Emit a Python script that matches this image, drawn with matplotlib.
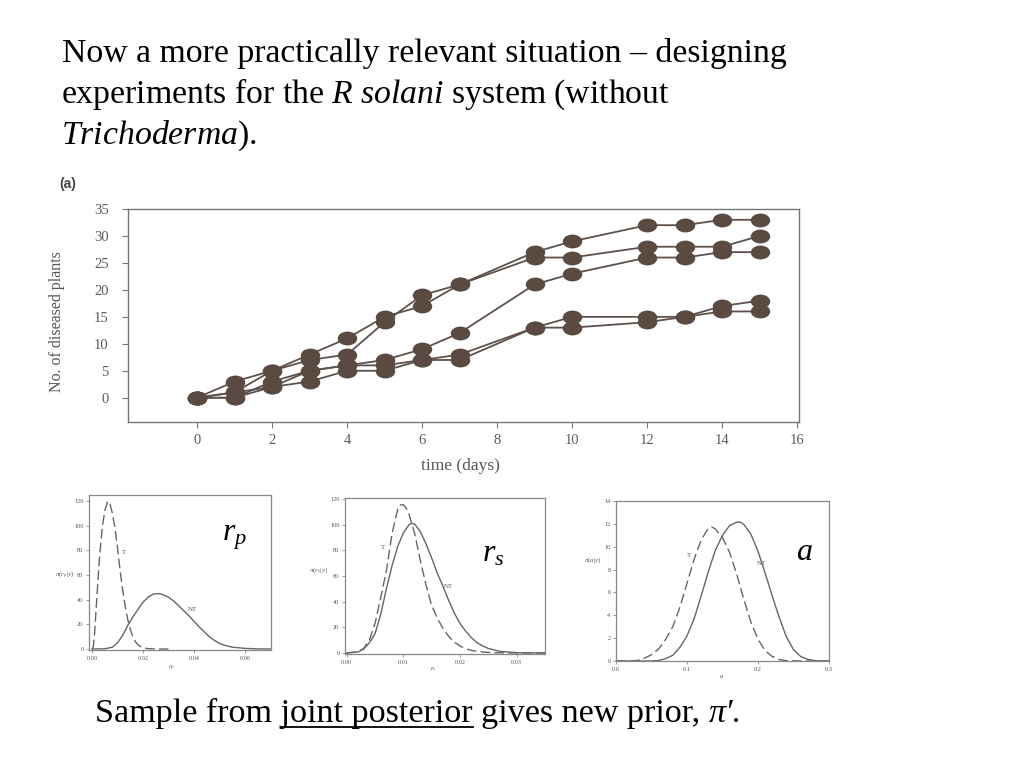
import matplotlib
matplotlib.use("Agg")
import matplotlib.pyplot as plt
from matplotlib.path import Path
from matplotlib.transforms import Affine2D
from matplotlib.lines import Line2D

plt.rcParams['font.family'] = ['Liberation Serif', 'DejaVu Serif']
plt.rcParams['mathtext.fontset'] = 'custom'
plt.rcParams['mathtext.rm'] = 'Liberation Serif'
plt.rcParams['mathtext.it'] = 'Liberation Serif:italic'
plt.rcParams['mathtext.bf'] = 'Liberation Serif:bold'

# disease progress curves (days)
days = [0, 1, 2, 3, 4, 5, 6, 7, 9, 10, 12, 13, 14, 15]
plot1 = [0, 3, 5, 8, 11, 15, 17, 21, 27, 29, 32, 32, 33, 33]
plot2 = [0, 1, 5, 7, 8, 14, 19, 21, 26, 26, 28, 28, 28, 30]
plot3 = [0, 0, 3, 5, 6, 7, 9, 12, 21, 23, 26, 26, 27, 27]
plot4 = [0, 1, 2, 5, 6, 6, 7, 8, 13, 15, 15, 15, 17, 18]
plot5 = [0, 0, 2, 3, 5, 5, 7, 7, 13, 13, 14, 15, 16, 16]
main_xticks = [0, 2, 4, 6, 8, 10, 12, 14, 16]
main_yticks = [0, 5, 10, 15, 20, 25, 30, 35]

# posterior densities
rp_T_x = [0.000, 0.0005, 0.001, 0.002, 0.003, 0.004, 0.005, 0.006, 0.0065, 0.007, 0.008, 0.009,
          0.010, 0.011, 0.012, 0.013, 0.014, 0.015, 0.016, 0.017, 0.018, 0.019, 0.020, 0.022,
          0.025, 0.030]
rp_T_y = [0, 2, 12, 45, 76, 98, 112, 119, 120, 118, 110, 98, 82, 64, 48, 35, 24, 16, 10, 6,
          3.5, 2, 1, 0.3, 0, 0]
rp_NT_x = [0.000, 0.005, 0.008, 0.010, 0.012, 0.014, 0.016, 0.018, 0.020, 0.022, 0.024, 0.026,
           0.028, 0.030, 0.032, 0.034, 0.036, 0.038, 0.040, 0.042, 0.044, 0.046, 0.048, 0.050,
           0.052, 0.055, 0.060, 0.065, 0.070]
rp_NT_y = [0, 0.2, 1.5, 5, 11, 19, 26, 32, 38, 42, 44.5, 45, 44, 42, 39, 35, 31, 27, 22.5, 18,
           14, 10, 7, 4.5, 3, 1.5, 0.5, 0.1, 0]

rs_T_x = [0.000, 0.002, 0.003, 0.004, 0.005, 0.006, 0.007, 0.008, 0.009, 0.0095, 0.010, 0.0105,
          0.011, 0.012, 0.013, 0.014, 0.015, 0.016, 0.017, 0.018, 0.019, 0.020, 0.021, 0.022,
          0.024, 0.026, 0.030, 0.035]
rs_T_y = [0, 1, 3.5, 10, 23, 43, 64, 93, 112, 115.5, 115.5, 113, 108, 93, 72, 53, 37, 27, 19,
          13, 8.5, 5.5, 3.3, 2, 0.7, 0.2, 0, 0]
rs_NT_x = [0.000, 0.002, 0.003, 0.004, 0.005, 0.006, 0.007, 0.008, 0.009, 0.010, 0.011, 0.0115,
           0.012, 0.013, 0.014, 0.015, 0.016, 0.017, 0.018, 0.019, 0.020, 0.021, 0.022, 0.023,
           0.024, 0.025, 0.027, 0.030, 0.035]
rs_NT_y = [0, 0.8, 3, 8, 15, 30, 50, 68, 83, 93.5, 100, 101, 100.5, 94.5, 85, 74, 62, 52, 41,
           31, 23, 17, 12, 8, 5.5, 3.5, 1.3, 0.2, 0]

a_T_x = [0.0, 0.02, 0.03, 0.04, 0.05, 0.06, 0.07, 0.08, 0.09, 0.10, 0.11, 0.12, 0.13, 0.135,
         0.14, 0.15, 0.16, 0.17, 0.18, 0.19, 0.20, 0.21, 0.22, 0.23, 0.24, 0.26, 0.30]
a_T_y = [0, 0, 0.05, 0.25, 0.55, 1.05, 1.9, 3.0, 4.7, 6.8, 8.9, 10.6, 11.6, 11.72, 11.55, 10.8,
         9.5, 7.6, 5.4, 3.4, 1.9, 0.9, 0.4, 0.12, 0.03, 0, 0]
a_NT_x = [0.0, 0.05, 0.06, 0.07, 0.08, 0.09, 0.10, 0.11, 0.12, 0.13, 0.14, 0.15, 0.16, 0.17,
          0.175, 0.18, 0.19, 0.20, 0.21, 0.22, 0.23, 0.24, 0.25, 0.26, 0.27, 0.28, 0.29, 0.30]
a_NT_y = [0, 0, 0.05, 0.2, 0.5, 1.2, 2.2, 3.7, 5.7, 7.8, 9.7, 11.0, 11.85, 12.15, 12.15, 11.95,
          11.1, 9.6, 7.7, 5.7, 3.8, 2.1, 1.0, 0.4, 0.15, 0.03, 0, 0]

W, H = 1024, 768
fig = plt.figure(figsize=(W / 100, H / 100), dpi=100)


def px(x, y):
    return x / W, 1 - y / H


def box(l, t, r, b):
    return [l / W, 1 - b / H, (r - l) / W, (b - t) / H]


# slide title
tsize = 24.3
fig.text(*px(62, 62), "Now a more practically relevant situation \u2013 designing",
         fontsize=tsize, va='baseline')
fig.text(*px(61, 103), r"experiments for the $\mathit{R\ solani}$ system (without",
         fontsize=tsize, va='baseline')
fig.text(*px(61, 144), r"$\mathit{Trichoderma}$).", fontsize=tsize, va='baseline')

# main chart
ink = '#5a4a42'
gray = '#666666'
ellipse = Path.unit_circle().transformed(Affine2D().scale(1.45, 1.0))
ax = fig.add_axes(box(128, 209, 799, 422))
for s in [plot1, plot2, plot3, plot4, plot5]:
    ax.plot(days, s, color='#5e514b', lw=1.3, marker=ellipse, markersize=13,
            markerfacecolor=ink, markeredgecolor=ink)
ax.set_xlim(-1.84, 16.05)
ax.set_ylim(-4.5, 35)
ax.set_xticks(main_xticks)
ax.set_yticks(main_yticks)
ax.tick_params(colors='#777777', labelcolor='#5a5a5a', labelsize=10.5, length=4, width=0.8)
ax.tick_params(axis='x', pad=5)
ax.tick_params(axis='y', pad=10)
for sp in ax.spines.values():
    sp.set_color('#777777')
    sp.set_linewidth(1.0)
fig.text(*px(68, 184), "(a)", fontsize=10, fontweight='bold', family='Liberation Sans',
         color='#444444', va='center', ha='center')
fig.text(*px(57, 322), "No. of diseased plants", fontsize=11.5, color='#555555',
         rotation=90, va='center', ha='center')
fig.text(*px(460, 466), "time (days)", fontsize=12.5, color='#555555',
         va='center', ha='center')


def small_panel(rect, xs_T, ys_T, xs_NT, ys_NT, xlim, ylim, xticks, xlabels, yticks):
    a = fig.add_axes(rect)
    a.plot(xs_NT, ys_NT, color=gray, lw=1.0)
    a.plot(xs_T, ys_T, color=gray, lw=1.0, dashes=(7, 3))
    a.set_xlim(*xlim)
    a.set_ylim(*ylim)
    a.set_xticks(xticks)
    a.set_xticklabels(xlabels)
    a.set_yticks(yticks)
    a.tick_params(colors='#888888', labelcolor='#555555', labelsize=4.5, length=2,
                  width=0.6, pad=2)
    for sp in a.spines.values():
        sp.set_color('#888888')
        sp.set_linewidth(0.9)
    return a


p1 = small_panel(box(89, 495, 271, 650), rp_T_x, rp_T_y, rp_NT_x, rp_NT_y,
                 (-0.00118, 0.0702), (-0.8, 124.9), [0, 0.02, 0.04, 0.06],
                 ['0.00', '0.02', '0.04', '0.06'], [0, 20, 40, 60, 80, 100, 120])
p1.text(0.0124, 78, "T", fontsize=5, color='#555555', ha='center', va='center')
p1.text(0.0395, 32, "NT", fontsize=5, color='#555555', ha='center', va='center')

p2 = small_panel(box(345, 498, 545, 654), rs_T_x, rs_T_y, rs_NT_x, rs_NT_y,
                 (-0.0003, 0.035), (-0.8, 120.8), [0, 0.01, 0.02, 0.03],
                 ['0.00', '0.01', '0.02', '0.03'], [0, 20, 40, 60, 80, 100, 120])
p2.text(0.0064, 82.6, "T", fontsize=5, color='#555555', ha='center', va='center')
p2.text(0.0179, 52, "NT", fontsize=5, color='#555555', ha='center', va='center')

p3 = small_panel(box(616, 501, 829, 661), a_T_x, a_T_y, a_NT_x, a_NT_y,
                 (0, 0.3), (0, 14), [0, 0.1, 0.2, 0.3],
                 ['0.0', '0.1', '0.2', '0.3'], [0, 2, 4, 6, 8, 10, 12, 14])
p3.text(0.103, 9.2, "T", fontsize=5, color='#555555', ha='center', va='center')
p3.text(0.205, 8.5, "NT", fontsize=5, color='#555555', ha='center', va='center')

# axis labels of the small panels
fig.text(*px(65, 575), r"$\pi(r_p|y)$", fontsize=5, color='#555555', ha='center', va='center')
fig.text(*px(172, 668), r"$r_p$", fontsize=5, color='#555555', ha='center', va='center')
fig.text(*px(319, 570), r"$\pi(r_s|y)$", fontsize=5, color='#555555', ha='center', va='center')
fig.text(*px(433, 669), r"$r_s$", fontsize=5, color='#555555', ha='center', va='center')
fig.text(*px(593, 560), r"$\pi(a|y)$", fontsize=5, color='#555555', ha='center', va='center')
fig.text(*px(722, 676), r"$a$", fontsize=5, color='#555555', ha='center', va='center')

# big parameter names
fig.text(*px(222, 540), r"$r_p$", fontsize=23, va='baseline')
fig.text(*px(482, 562), r"$r_s$", fontsize=23, va='baseline')
fig.text(*px(796, 560), r"$a$", fontsize=23, va='baseline')

# bottom sentence with underline
bsize = 24.6
renderer = fig.canvas.get_renderer()


def width(s, **kw):
    t = fig.text(0, 0, s, fontsize=bsize, **kw)
    w = t.get_window_extent(renderer).width
    t.remove()
    return w


x0, yb = 95, 722
main = "Sample from joint posterior gives new prior,"
fig.text(*px(x0, yb), main, fontsize=bsize, va='baseline')
u0 = x0 + width("Sample from j") - width("j")
u1 = x0 + width("Sample from joint posterior")
fig.add_artist(Line2D([u0 / W, u1 / W], [1 - (yb + 5) / H, 1 - (yb + 5) / H],
                      color='black', lw=1.3, transform=fig.transFigure))
sp = width("a a") - width("aa")
xpi = x0 + width(main) + sp
fig.text(*px(xpi, yb), "\u03c0\u2032.", fontsize=bsize, style='italic', va='baseline')

fig.savefig("out.png", dpi=100)
